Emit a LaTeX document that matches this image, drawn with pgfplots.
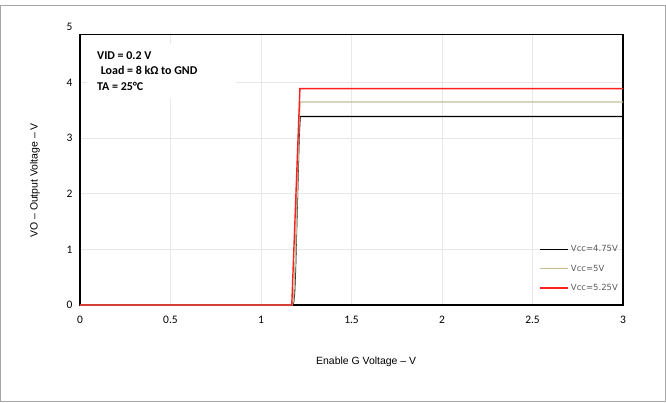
\documentclass[border=0pt]{standalone}
\usepackage{fontspec}
\setmainfont{Carlito}
\newfontfamily\arialf{Liberation Sans}
\newfontfamily\dejaf{DejaVu Sans}
\usepackage{pgfplots}
\pgfplotsset{compat=1.18}
\definecolor{tanc}{HTML}{C4BD97}
\definecolor{redc}{HTML}{FF1F1F}
\definecolor{legtxt}{HTML}{595959}
\begin{document}
\begin{tikzpicture}[x=1bp,y=1bp]
\path[use as bounding box] (-80,-97) rectangle (586,305);
\draw[gray!70, line width=1bp] (-79.5,-96.5) rectangle (585,300);
\begin{axis}[
  at={(0,0)}, anchor=origin,
  scale only axis, width=543bp, height=270.8bp,
  xmin=0, xmax=3, ymin=0, ymax=4.87,
  clip=false,
  xtick={0,0.5,1,1.5,2,2.5,3},
  ytick={0,1,2,3,4},
  xticklabels={0,0.5,1,1.5,2,2.5,3},
  major tick length=0pt,
  /pgf/number format/assume math mode=true,
  tick label style={font=\fontsize{11.5}{12}\selectfont},
  xticklabel style={yshift=-8bp},
  yticklabel style={xshift=-4bp},
  grid=major,
  grid style={gray!18, line width=0.8bp},
  axis line style={black, line width=1.2bp},
  xlabel={Enable G Voltage – V},
  ylabel={VO – Output Voltage – V},
  label style={font=\arialf\fontsize{10.5}{12}\selectfont},
  xlabel style={at={(axis description cs:0.527,-0.21)}, anchor=center},
  ylabel style={at={(axis description cs:-0.083,0.46)}, anchor=center},
  legend style={draw=none, fill=none, at={(axis cs:3,0)}, anchor=south east,
    xshift=-2bp, yshift=10bp, font=\dejaf\fontsize{8.5}{9}\selectfont\color{legtxt},
    row sep=7.5bp, inner sep=1bp},
  legend cell align=left,
  legend image code/.code={\draw[#1] (0bp,0bp) -- (28bp,0bp);},
]
\fill[white] (axis cs:0.039,3.70) rectangle (axis cs:0.862,4.70);
\addplot[black, line width=1.3bp] coordinates {
 (0,0) (1.172,0) (1.18,0.05) (1.185,0.2) (1.19,0.6) (1.20,1.8) (1.21,3.0) (1.216,3.39) (3,3.39)};
\addplot[tanc, line width=1.3bp] coordinates {
 (0,0) (1.172,0) (1.18,0.08) (1.19,0.8) (1.20,2.0) (1.21,3.2) (1.216,3.65) (3,3.65)};
\addplot[redc, line width=1.4bp] coordinates {
 (0,0) (1.17,0) (1.215,3.89) (3,3.89)};
\legend{Vcc=4.75V, Vcc=5V, Vcc=5.25V}
\node[anchor=east, font=\fontsize{11.5}{12}\selectfont, xshift=-4bp] at (axis cs:0,5) {5};
\node[anchor=west, font=\bfseries\fontsize{12}{13}\selectfont, inner sep=0] at (axis cs:0.094,4.49) {VID = 0.2 V};
\node[anchor=west, font=\bfseries\fontsize{12}{13}\selectfont, inner sep=0] at (axis cs:0.114,4.22) {Load = 8 kΩ to GND};
\node[anchor=west, font=\bfseries\fontsize{12}{13}\selectfont, inner sep=0] at (axis cs:0.094,3.93) {TA = 25°C};
\end{axis}
\end{tikzpicture}
\end{document}
